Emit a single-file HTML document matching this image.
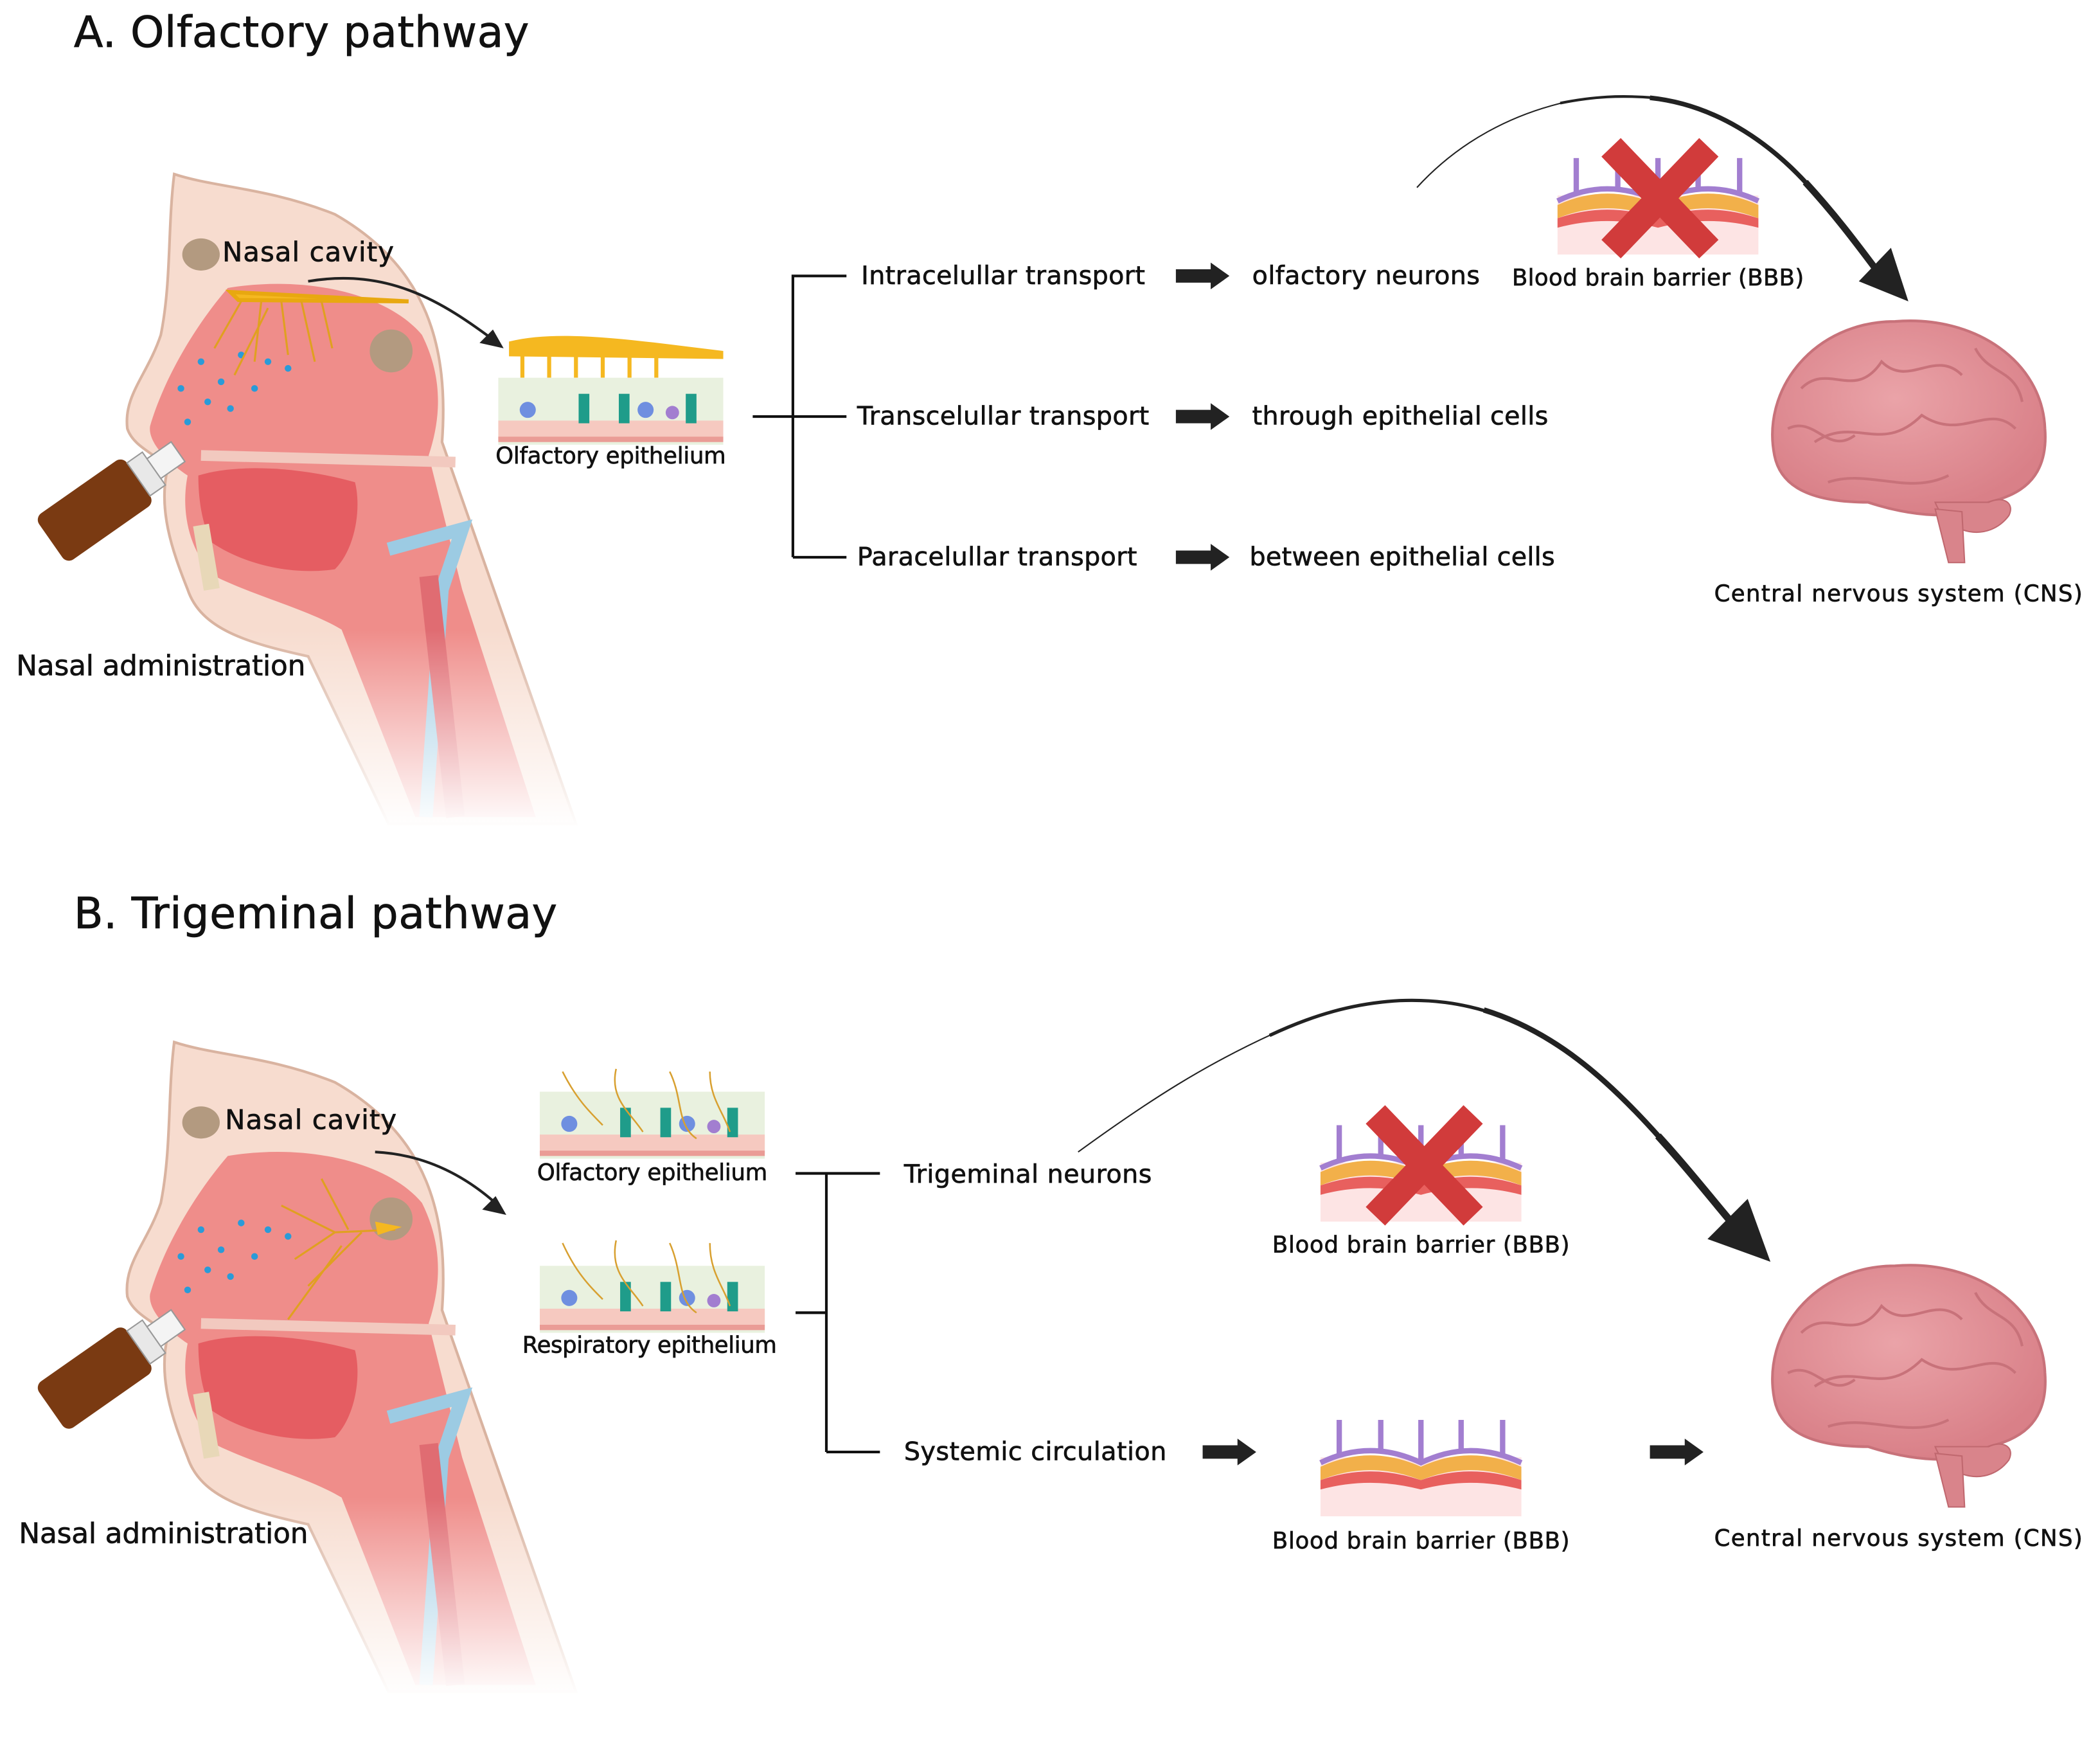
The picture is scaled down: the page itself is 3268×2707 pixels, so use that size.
<!DOCTYPE html>
<html><head><meta charset="utf-8"><style>
html,body{margin:0;padding:0;background:#fff;}
svg{display:block;}
text{font-family:"DejaVu Sans","Liberation Sans",sans-serif;fill:#111;stroke:#111;stroke-width:0.35;}
</style></head><body>
<svg width="3268" height="2707" viewBox="0 0 1568 1299" xmlns="http://www.w3.org/2000/svg">
<defs>
<linearGradient id="fade" x1="0" y1="0" x2="0" y2="1">
<stop offset="0" stop-color="#fff" stop-opacity="0"/><stop offset="1" stop-color="#fff" stop-opacity="1"/>
</linearGradient>
<radialGradient id="brainG" cx="0.45" cy="0.4" r="0.6"><stop offset="0" stop-color="#eaa3a8"/><stop offset="1" stop-color="#d98088"/></radialGradient>
<g id="head">
 <path d="M130 130 C125 170 128 210 120 250 C110 280 92 295 95 320 C100 335 120 340 125 350 C118 380 128 410 140 440 C150 470 185 480 230 490 L290 615 L430 615 L330 330 C335 260 320 200 250 160 C200 140 160 140 130 130 Z" fill="#f7dccf" stroke="#d9b3a0" stroke-width="2"/>
 <path d="M170 215 C230 205 290 220 315 250 C330 280 330 310 320 340 L345 440 L400 610 L310 610 L255 470 C230 455 190 445 160 430 C140 410 135 380 140 355 C125 345 110 330 112 318 C120 290 140 250 170 215 Z" fill="#ef8d8a"/>
 <path d="M148 355 C180 345 230 350 265 360 C270 380 265 410 250 425 C215 430 180 420 158 405 C150 390 148 370 148 355 Z" fill="#e55d62"/>
 <path d="M150 340 L340 345" stroke="#f2c9bf" stroke-width="8"/>
 <ellipse cx="150" cy="190" rx="14" ry="12" fill="#b39a80"/>
 <ellipse cx="292" cy="262" rx="16" ry="16" fill="#b39a80"/>
 <path d="M290 410 L345 395 L330 440 L318 610" stroke="#9ccbe3" stroke-width="10" fill="none"/>
 <path d="M320 430 L340 610" stroke="#e06c72" stroke-width="14" fill="none"/>
 <path d="M150 392 L158 440" stroke="#e8d8b8" stroke-width="12"/>
 <rect x="90" y="470" width="360" height="150" fill="url(#fade)"/>
 <g transform="rotate(-35 70 380)"><rect x="30" y="360" width="80" height="42" rx="6" fill="#7a3a12"/><rect x="110" y="366" width="14" height="30" fill="#e8e8e8" stroke="#999"/><rect x="124" y="372" width="22" height="18" fill="#f4f4f4" stroke="#999"/></g>
</g>
<g id="epi">
 <rect x="0" y="0" width="168" height="50" fill="#e9f1df"/>
 <rect x="0" y="32" width="168" height="14" fill="#f6c9c0"/>
 <rect x="0" y="44" width="168" height="4" fill="#ea9c96"/>
 <g fill="#6f8fe0"><circle cx="22" cy="24" r="6"/><circle cx="110" cy="24" r="6"/></g>
 <g fill="#1f9c8a"><rect x="60" y="12" width="8" height="22"/><rect x="90" y="12" width="8" height="22"/><rect x="140" y="12" width="8" height="22"/></g>
 <circle cx="130" cy="26" r="5" fill="#a27ed0"/>
</g>
<g id="bbb">
 <rect x="0" y="28" width="150" height="44" fill="#fde4e4"/>
 <path d="M0 35 Q37 18 75 35 Q112 18 150 35 L150 45 Q112 30 75 45 Q37 30 0 45Z" fill="#f2b04a"/>
 <path d="M0 45 Q37 32 75 45 Q112 32 150 45 L150 52 Q112 42 75 52 Q37 42 0 52Z" fill="#e8605e"/>
 <path d="M0 32 Q37 14 75 32 Q112 14 150 32" stroke="#a27ed0" stroke-width="4" fill="none"/>
 <g stroke="#a27ed0" stroke-width="4"><line x1="14" y1="0" x2="14" y2="26"/><line x1="45" y1="0" x2="45" y2="24"/><line x1="75" y1="0" x2="75" y2="30"/><line x1="105" y1="0" x2="105" y2="24"/><line x1="136" y1="0" x2="136" y2="26"/></g>
</g>
<g id="brain">
 <path d="M-100 10 C-110 -40 -70 -90 -10 -90 C50 -95 100 -60 102 -10 C105 30 80 40 60 45 C40 60 0 55 -30 45 C-70 45 -95 35 -100 10Z" fill="url(#brainG)" stroke="#c8727a" stroke-width="2"/>
 <path d="M-80 -40 C-60 -60 -40 -30 -20 -60 C0 -40 20 -70 40 -50 M-70 0 C-40 -20 -20 10 10 -20 C40 0 60 -30 80 -10 M-60 30 C-30 20 0 40 30 25 M-90 -10 C-70 -20 -60 10 -40 -5 M50 -70 C60 -50 80 -55 85 -30" stroke="#c8727a" stroke-width="2" fill="none"/>
 <path d="M20 45 C30 70 60 75 75 55 C80 45 70 40 60 45Z" fill="#d9848b" stroke="#c0686f"/>
 <path d="M20 50 L30 90 L42 90 L40 52Z" fill="#d9848b" stroke="#c0686f"/>
</g>
<g id="xmark"><path d="M-35 -38 L38 38 M38 -38 L-35 38" stroke="#d13b3b" stroke-width="20"/></g>
<g id="fatarrow"><path d="M0 -5 L26 -5 L26 -10 L40 0 L26 10 L26 5 L0 5Z" fill="#222"/></g>
</defs>

<!-- A -->
<text x="55" y="35" font-size="32" textLength="340">A. Olfactory pathway</text>
<use href="#head"/>
<g fill="#2a9bd8"><circle cx="150" cy="270" r="2.5"/><circle cx="165" cy="285" r="2.5"/><circle cx="180" cy="265" r="2.5"/><circle cx="155" cy="300" r="2.5"/><circle cx="140" cy="315" r="2.5"/><circle cx="190" cy="290" r="2.5"/><circle cx="200" cy="270" r="2.5"/><circle cx="172" cy="305" r="2.5"/><circle cx="215" cy="275" r="2.5"/><circle cx="135" cy="290" r="2.5"/></g>
<path d="M172 218 L305 225 L178 224Z" fill="#f5b820" stroke="#e8a810" stroke-width="3"/>
<g stroke="#e0a020" stroke-width="1.5" fill="none"><path d="M180 225 L160 260 M195 225 L190 270 M210 225 L215 265 M225 225 L235 270 M240 225 L248 260 M200 230 L175 280"/></g>
<text x="166" y="195" font-size="20" textLength="128">Nasal cavity</text>
<path d="M230 210 C290 200 330 225 370 255" stroke="#222" stroke-width="2" fill="none"/>
<path d="M376 260 L358 256 L368 246Z" fill="#222"/>
<path d="M380 255 C420 245 480 255 540 262 L540 268 L380 266Z" fill="#f5b820"/>
<g stroke="#f5b820" stroke-width="3"><line x1="390" y1="262" x2="390" y2="282"/><line x1="410" y1="262" x2="410" y2="282"/><line x1="430" y1="262" x2="430" y2="282"/><line x1="450" y1="262" x2="450" y2="282"/><line x1="470" y1="262" x2="470" y2="282"/><line x1="490" y1="262" x2="490" y2="282"/></g>
<use href="#epi" x="372" y="282"/>
<text x="370" y="346" font-size="17" textLength="172">Olfactory epithelium</text>
<g stroke="#111" stroke-width="2" fill="none"><path d="M562 311 L592 311 M592 205 L592 416 M592 206 L632 206 M592 311 L632 311 M592 416 L632 416"/></g>
<text x="643" y="212" font-size="19" textLength="212">Intracelullar transport</text>
<text x="640" y="317" font-size="19" textLength="218">Transcelullar transport</text>
<text x="640" y="422" font-size="19" textLength="209">Paracelullar transport</text>
<use href="#fatarrow" x="878" y="206"/><use href="#fatarrow" x="878" y="311"/><use href="#fatarrow" x="878" y="416"/>
<text x="935" y="212" font-size="19" textLength="170">olfactory neurons</text>
<text x="935" y="317" font-size="19" textLength="221">through epithelial cells</text>
<text x="933" y="422" font-size="19" textLength="228">between epithelial cells</text>
<use href="#bbb" x="1163" y="118"/>
<use href="#xmark" x="1238" y="148"/>
<text x="1129" y="213" font-size="17" textLength="218">Blood brain barrier (BBB)</text>
<g fill="none" stroke="#222">
<path d="M1058 140 C1090 105 1130 85 1170 76" stroke-width="1"/>
<path d="M1165 77 C1190 72 1210 71 1235 73" stroke-width="2"/>
<path d="M1232 73 C1280 78 1320 105 1350 138" stroke-width="3.5"/>
<path d="M1348 136 C1370 160 1385 180 1400 200" stroke-width="5"/>
</g>
<path d="M1388 210 L1425 225 L1412 185Z" fill="#222"/>
<use href="#brain" x="1425" y="330"/>
<text x="1280" y="449" font-size="17" textLength="275">Central nervous system (CNS)</text>
<text x="12" y="504" font-size="21" textLength="216">Nasal administration</text>

<!-- B -->
<text x="55" y="693" font-size="32" textLength="361">B. Trigeminal pathway</text>
<use href="#head" y="648"/>
<g fill="#2a9bd8"><circle cx="150" cy="918" r="2.5"/><circle cx="165" cy="933" r="2.5"/><circle cx="180" cy="913" r="2.5"/><circle cx="155" cy="948" r="2.5"/><circle cx="140" cy="963" r="2.5"/><circle cx="190" cy="938" r="2.5"/><circle cx="200" cy="918" r="2.5"/><circle cx="172" cy="953" r="2.5"/><circle cx="215" cy="923" r="2.5"/><circle cx="135" cy="938" r="2.5"/></g>
<g stroke="#e0a020" stroke-width="1.5" fill="none"><path d="M295 918 L250 920 L210 900 M250 920 L220 940 M260 918 L240 880 M270 920 L230 960 M255 930 L215 985"/></g>
<path d="M280 912 L300 916 L282 922Z" fill="#f5b820"/>
<text x="168" y="843" font-size="20" textLength="128">Nasal cavity</text>
<path d="M280 860 C320 862 350 880 372 900" stroke="#222" stroke-width="2" fill="none"/>
<path d="M378 907 L360 903 L370 893Z" fill="#222"/>
<use href="#epi" x="403" y="815"/>
<g stroke="#d8a030" stroke-width="1.2" fill="none"><path d="M420 800 C430 820 440 830 450 840 M460 798 C455 820 470 830 480 845 M500 800 C510 820 505 840 520 850 M530 800 C530 820 540 830 545 845"/></g>
<text x="401" y="881" font-size="17" textLength="172">Olfactory epithelium</text>
<use href="#epi" x="403" y="945"/>
<g stroke="#d8a030" stroke-width="1.2" fill="none"><path d="M420 928 C430 950 440 960 450 970 M460 926 C455 950 470 960 480 975 M500 928 C510 950 505 970 520 980 M530 928 C530 950 540 960 545 975"/></g>
<text x="390" y="1010" font-size="17" textLength="190">Respiratory epithelium</text>
<g stroke="#111" stroke-width="2" fill="none"><path d="M594 876 L617 876 M594 980 L617 980 M617 876 L617 1084 M617 876 L657 876 M617 1084 L657 1084"/></g>
<text x="675" y="883" font-size="19" textLength="185">Trigeminal neurons</text>
<text x="675" y="1090" font-size="19" textLength="196">Systemic circulation</text>
<use href="#fatarrow" x="898" y="1084"/><use href="#fatarrow" x="1232" y="1084"/>
<use href="#bbb" x="986" y="840"/>
<use href="#xmark" x="1062" y="870"/>
<text x="950" y="935" font-size="17" textLength="222">Blood brain barrier (BBB)</text>
<use href="#bbb" x="986" y="1060"/>
<text x="950" y="1156" font-size="17" textLength="222">Blood brain barrier (BBB)</text>
<g fill="none" stroke="#222">
<path d="M805 860 C860 820 900 795 950 772" stroke-width="1"/>
<path d="M948 773 C980 758 1010 749 1045 747 C1070 746 1090 749 1110 755" stroke-width="2.5"/>
<path d="M1108 754 C1160 770 1200 805 1240 850" stroke-width="4"/>
<path d="M1238 848 C1260 872 1278 895 1295 915" stroke-width="5.5"/>
</g>
<path d="M1275 925 L1322 942 L1305 895Z" fill="#222"/>
<use href="#brain" x="1425" y="1035"/>
<text x="1280" y="1154" font-size="17" textLength="275">Central nervous system (CNS)</text>
<text x="14" y="1152" font-size="21" textLength="216">Nasal administration</text>
</svg>
</body></html>
